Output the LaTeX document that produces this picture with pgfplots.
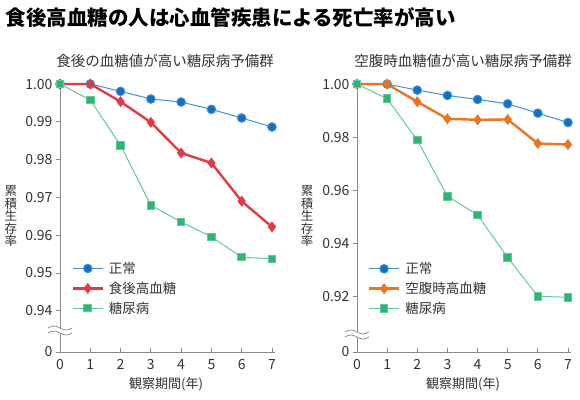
\documentclass[border=0pt]{standalone}
\usepackage{pgfplots}
\pgfplotsset{compat=1.18}
\usepackage{fontspec}
\setmainfont{Noto Sans CJK JP}
\definecolor{cblue}{HTML}{156FC0}
\definecolor{cbluel}{HTML}{3E93D8}
\definecolor{cred}{HTML}{E33B45}
\definecolor{cgreen}{HTML}{2FB573}
\definecolor{cgreenl}{HTML}{62C99E}
\definecolor{corange}{HTML}{EE7421}
\definecolor{caxis}{HTML}{8A8A8A}
\definecolor{ctext}{HTML}{333333}
\pgfplotsset{
  base/.style={
    scale only axis, clip=false,
    xmin=0, xmax=7.1,
    axis lines=left, axis line style={-, caxis, line width=0.8pt},
    tick style={caxis, line width=0.8pt},
    tick align=outside, major tick length=4pt,
    xtick style={yshift=4pt},
    xtick={0,...,7},
    ticklabel style={font=\fontsize{14}{14}\selectfont, text=ctext},
    /pgf/number format/assume math mode=true,
    legend style={draw=none, fill=none, font=\fontsize{13.5}{13.5}\selectfont, text=ctext,
      row sep=3pt, anchor=north west, inner sep=0pt, nodes={inner xsep=5pt}},
    legend cell align=left,
    legend image code/.code={\draw[#1] (0cm,0cm) -- (0.5*30pt,0cm) -- (30pt,0cm);
      \draw[#1, only marks] plot coordinates {(15pt,0cm)};},
  },
  sblue/.style={cbluel, line width=1pt, mark=*, mark size=4.3pt, mark options={fill=cblue, draw=none}},
  sred/.style={cred, line width=2.4pt, mark=diamond*, mark size=3.6pt, mark options={fill=cred, draw=none}},
  sorange/.style={corange, line width=2.4pt, mark=diamond*, mark size=3.6pt, mark options={fill=corange, draw=none}},
  sgreen/.style={cgreenl, line width=1pt, mark=square*, mark size=3.8pt, mark options={fill=cgreen, draw=none}},
}
\begin{document}
\begin{tikzpicture}
\path (0,0) rectangle (580pt,399pt);
\node[anchor=west, font=\bfseries\fontsize{20.5}{20.5}\selectfont] at (2pt,381pt) {食後高血糖の人は心血管疾患による死亡率が高い};
\node[font=\fontsize{14.5}{14.5}\selectfont, text=ctext] at (165pt,338pt) {食後の血糖値が高い糖尿病予備群};
\node[font=\fontsize{14.5}{14.5}\selectfont, text=ctext] at (463pt,338pt) {空腹時血糖値が高い糖尿病予備群};
% left axis
\begin{axis}[base, at={(60pt,47pt)}, anchor=south west, width=215pt, height=271pt,
  ymin=0.9291, ymax=1.0008,
  ytick={0.9291,0.94,0.95,0.96,0.97,0.98,0.99,1.00},
  yticklabels={0,0.94,0.95,0.96,0.97,0.98,0.99,1.00},
  legend style={at={(rel axis cs:0.053,0.34)}}]
\addplot[sblue] coordinates {(0,1.0) (1,1.0) (2,0.99806) (3,0.99604) (4,0.99524) (5,0.99330) (6,0.99101) (7,0.98863)};
\addlegendentry{正常}
\addplot[sred] coordinates {(0,1.0) (1,1.0) (2,0.99533) (3,0.98987) (4,0.98176) (5,0.97912) (6,0.96899) (7,0.96220)};
\addlegendentry{食後高血糖}
\addplot[sgreen] coordinates {(0,1.0) (1,0.99577) (2,0.98379) (3,0.96793) (4,0.96352) (5,0.95956) (6,0.95419) (7,0.95374)};
\addlegendentry{糖尿病}
\end{axis}
% right axis
\begin{axis}[base, at={(357pt,47pt)}, anchor=south west, width=214pt, height=270pt,
  ymin=0.89887, ymax=1.0008,
  ytick={0.89887,0.92,0.94,0.96,0.98,1.00},
  yticklabels={0,0.92,0.94,0.96,0.98,1.00},
  legend style={at={(rel axis cs:0.05,0.34)}}]
\addplot[sblue] coordinates {(0,1.0) (1,1.0) (2,0.99773) (3,0.99572) (4,0.99421) (5,0.99257) (6,0.98904) (7,0.98552)};
\addlegendentry{正常}
\addplot[sorange] coordinates {(0,1.0) (1,1.0) (2,0.99333) (3,0.98690) (4,0.98652) (5,0.98665) (6,0.97758) (7,0.97720)};
\addlegendentry{空腹時高血糖}
\addplot[sgreen] coordinates {(0,1.0) (1,0.99446) (2,0.97884) (3,0.95768) (4,0.95063) (5,0.93451) (6,0.91990) (7,0.91952)};
\addlegendentry{糖尿病}
\end{axis}
% axis breaks
\foreach \xo/\yo in {48/66, 345/62}{
  \fill[white] (\xo pt,\yo pt+5pt) sin (\xo pt+6pt,\yo pt+7pt) cos (\xo pt+12pt,\yo pt+5pt) sin (\xo pt+18pt,\yo pt+3pt) cos (\xo pt+24pt,\yo pt+5pt)
     -- (\xo pt+24pt,\yo pt) sin (\xo pt+18pt,\yo pt-2pt) cos (\xo pt+12pt,\yo pt) sin (\xo pt+6pt,\yo pt+2pt) cos (\xo pt,\yo pt) -- cycle;
  \draw[caxis, line width=0.7pt] (\xo pt,\yo pt+5pt) sin (\xo pt+6pt,\yo pt+7pt) cos (\xo pt+12pt,\yo pt+5pt) sin (\xo pt+18pt,\yo pt+3pt) cos (\xo pt+24pt,\yo pt+5pt);
  \draw[caxis, line width=0.7pt] (\xo pt,\yo pt) sin (\xo pt+6pt,\yo pt+2pt) cos (\xo pt+12pt,\yo pt) sin (\xo pt+18pt,\yo pt-2pt) cos (\xo pt+24pt,\yo pt);
}
% y labels (stacked characters)
\foreach \xc in {11,307}{
  \foreach \ch/\yc in {累/208, 積/195.5, 生/183, 存/170.5, 率/158}{
    \node[font=\fontsize{12.5}{12.5}\selectfont, text=ctext, inner sep=0pt] at (\xc pt,\yc pt) {\ch};
  }
}
% x labels
\node[font=\fontsize{13}{13}\selectfont, text=ctext] at (166pt,15pt) {観察期間(年)};
\node[font=\fontsize{13}{13}\selectfont, text=ctext] at (463pt,15pt) {観察期間(年)};
\end{tikzpicture}
\end{document}
